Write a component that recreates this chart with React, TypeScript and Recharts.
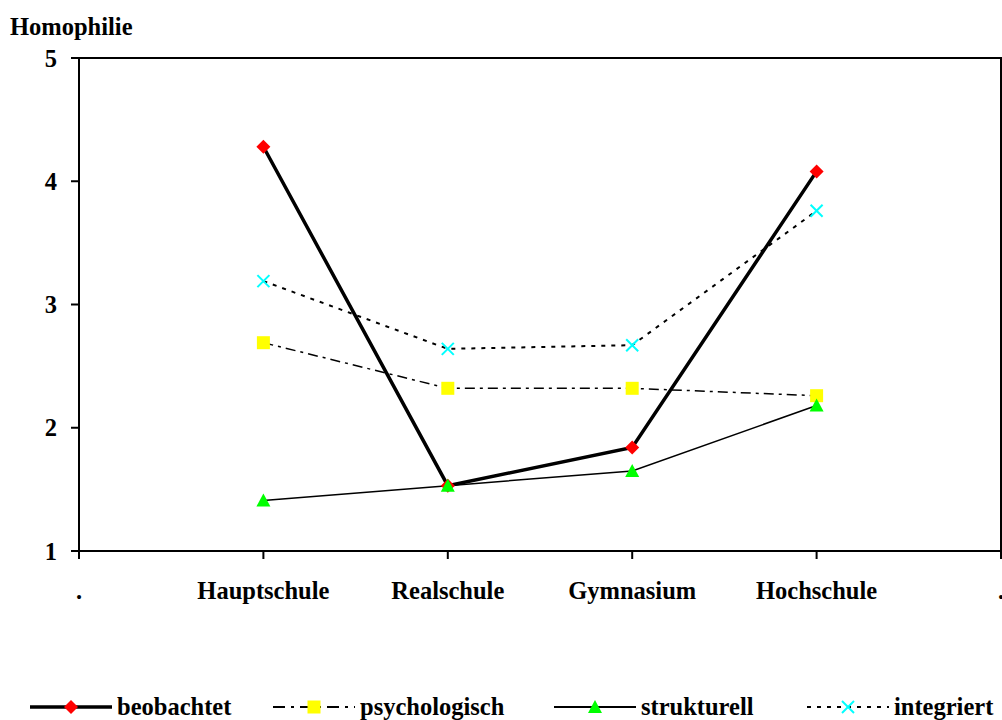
import { LineChart, Line, XAxis, YAxis, ReferenceArea, Label } from 'recharts'

const categories = ['.', 'Hauptschule', 'Realschule', 'Gymnasium', 'Hochschule', '.']
const beobachtet = [null, 4.28, 1.53, 1.84, 4.08, null]
const psychologisch = [null, 2.69, 2.32, 2.32, 2.26, null]
const strukturell = [null, 1.41, 1.53, 1.65, 2.18, null]
const integriert = [null, 3.19, 2.64, 2.67, 3.76, null]
const yTicks = [1, 2, 3, 4, 5]

const data = categories.map((name, i) => ({
  idx: i,
  name,
  beobachtet: beobachtet[i],
  psychologisch: psychologisch[i],
  strukturell: strukturell[i],
  integriert: integriert[i],
}))

const font = '"Liberation Serif", "Times New Roman", serif'
const fs = 24.5

type DotProps = { cx?: number; cy?: number; index?: number; value?: number | null }

const Diamond = (cx: number, cy: number) => (
  <polygon points={`${cx},${cy - 7} ${cx + 7},${cy} ${cx},${cy + 7} ${cx - 7},${cy}`} fill='#ff0000' />
)
const Square = (cx: number, cy: number) => (
  <rect x={cx - 6.5} y={cy - 6.5} width={13} height={13} fill='#ffff00' />
)
const Triangle = (cx: number, cy: number) => (
  <polygon points={`${cx},${cy - 7} ${cx + 7},${cy + 6} ${cx - 7},${cy + 6}`} fill='#00ff00' />
)
const Cross = (cx: number, cy: number) => (
  <g stroke='#00ffff' strokeWidth={2}>
    <line x1={cx - 6} y1={cy - 6} x2={cx + 6} y2={cy + 6} />
    <line x1={cx - 6} y1={cy + 6} x2={cx + 6} y2={cy - 6} />
  </g>
)

const makeDot = (shape: (cx: number, cy: number) => React.ReactElement) => (p: DotProps) => {
  if (p.cx == null || p.cy == null || p.value == null) return <g key={`e${p.index}`} />
  return <g key={`d${p.index}`}>{shape(p.cx, p.cy)}</g>
}

const series = [
  { key: 'integriert', width: 2, dash: '4 6', shape: Cross },
  { key: 'psychologisch', width: 1.5, dash: '10 5 3 5', shape: Square },
  { key: 'beobachtet', width: 3.5, dash: undefined, shape: Diamond },
  { key: 'strukturell', width: 1.5, dash: undefined, shape: Triangle },
]

const legendItems = [
  { key: 'beobachtet', left: 30, width: 3.5, dash: undefined, shape: Diamond },
  { key: 'psychologisch', left: 273, width: 2, dash: '12 6 3 6', shape: Square },
  { key: 'strukturell', left: 554, width: 2, dash: undefined, shape: Triangle },
  { key: 'integriert', left: 807, width: 2, dash: '4 6', shape: Cross },
]

export default function App() {
  return (
    <div style={{ position: 'absolute', left: 0, top: 0, width: 1002, height: 720, overflow: 'hidden', background: '#fff', fontFamily: font }}>
      <LineChart width={1002} height={620} data={data} margin={{ top: 58, right: 1, left: 0, bottom: 9 }}>
        <ReferenceArea x1={0} x2={5} y1={1} y2={5} fill='none' stroke='#000' strokeWidth={2} ifOverflow='visible' />
        <XAxis
          dataKey='idx'
          type='number'
          domain={[0, 5]}
          ticks={[0, 1, 2, 3, 4, 5]}
          tickFormatter={(v: number) => categories[v]}
          height={60}
          tickSize={8}
          tickMargin={23}
          axisLine={{ stroke: '#000', strokeWidth: 2 }}
          tickLine={{ stroke: '#000', strokeWidth: 2 }}
          tick={{ fill: '#000', fontSize: fs, fontWeight: 'bold', fontFamily: font }}
          interval={0}
        />
        <YAxis
          type='number'
          domain={[1, 5]}
          ticks={yTicks}
          width={79}
          tickSize={8}
          tickMargin={14}
          axisLine={{ stroke: '#000', strokeWidth: 2 }}
          tickLine={{ stroke: '#000', strokeWidth: 2 }}
          tick={{ fill: '#000', fontSize: fs, fontWeight: 'bold', fontFamily: font }}
        >
          <Label
            content={() => (
              <text x={10} y={35} fontSize={fs} fontWeight='bold' fontFamily={font} fill='#000'>
                Homophilie
              </text>
            )}
          />
        </YAxis>
        {series.map((s) => (
          <Line
            key={s.key}
            dataKey={s.key}
            stroke='#000'
            strokeWidth={s.width}
            strokeDasharray={s.dash}
            dot={makeDot(s.shape)}
            activeDot={false}
            isAnimationActive={false}
            type='linear'
          />
        ))}
      </LineChart>
      {legendItems.map((it) => (
        <div
          key={it.key}
          style={{ position: 'absolute', left: it.left, top: 694, display: 'flex', alignItems: 'center', height: 26 }}
        >
          <svg width={82} height={20}>
            <line x1={0} y1={10} x2={82} y2={10} stroke='#000' strokeWidth={it.width} strokeDasharray={it.dash} />
            {it.shape(41, 10)}
          </svg>
          <span style={{ marginLeft: 5, fontSize: fs, fontWeight: 'bold', color: '#000', whiteSpace: 'nowrap' }}>{it.key}</span>
        </div>
      ))}
    </div>
  )
}
